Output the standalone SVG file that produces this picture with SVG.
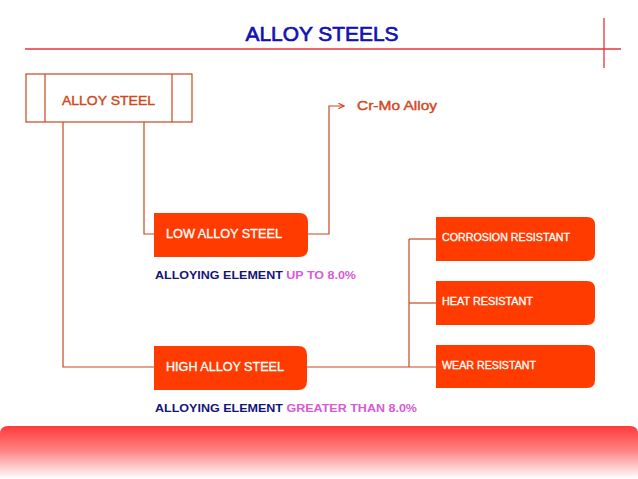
<svg xmlns="http://www.w3.org/2000/svg" width="638" height="479" viewBox="0 0 638 479">
<defs>
<linearGradient id="bar" x1="0" y1="0" x2="0" y2="1">
<stop offset="0" stop-color="#ff3a3a"/>
<stop offset="0.45" stop-color="#ff8080"/>
<stop offset="1" stop-color="#ffffff"/>
</linearGradient>
<marker id="arr" viewBox="0 0 10 10" refX="9" refY="5" markerWidth="7" markerHeight="7" orient="auto" markerUnits="userSpaceOnUse">
<path d="M1,1 L9,5 L1,9" fill="none" stroke="#d2461c" stroke-width="1.6"/>
</marker>
<style>
.conn{fill:none;stroke:#c8461e;stroke-width:1.2}
.box{fill:#ff3b00}
.wt{fill:#ffffff;stroke:#ffffff;stroke-width:0.3;font-family:"Liberation Sans",Arial,sans-serif}
.or{fill:#d2461c;stroke:#d2461c;stroke-width:0.4;font-family:"Liberation Sans",Arial,sans-serif}
.nv{fill:#141478;font-family:"Liberation Sans",Arial,sans-serif;font-weight:bold;font-size:11.5px}
.mg{fill:#d85ad6}
</style>
</defs>
<rect width="638" height="479" fill="#ffffff"/>
<text x="322" y="41" text-anchor="middle" font-family="'Liberation Sans',Arial,sans-serif" font-size="21" fill="#1212b4" stroke="#1212b4" stroke-width="0.7" textLength="153" lengthAdjust="spacingAndGlyphs">ALLOY STEELS</text>
<line x1="25" y1="49" x2="621" y2="49" stroke="#e8343a" stroke-width="1.3"/>
<line x1="604" y1="18" x2="604" y2="68" stroke="#e8343a" stroke-width="1.3"/>

<g id="connectors">
<path class="conn" d="M63,122 V367 H154"/>
<path class="conn" d="M144,122 V234 H154"/>
<path class="conn" d="M308,234 H329 V106 H344" marker-end="url(#arr)"/>
<path class="conn" d="M307,367 H436"/>
<path class="conn" d="M409,239 V367"/>
<path class="conn" d="M409,239 H436"/>
<path class="conn" d="M409,303 H436"/>
</g>

<g id="alloy-steel">
<rect x="26" y="74" width="166" height="48" fill="none" stroke="#c8461e" stroke-width="1.2"/>
<line x1="45" y1="74" x2="45" y2="122" stroke="#c8461e" stroke-width="1.2"/>
<line x1="172" y1="74" x2="172" y2="122" stroke="#c8461e" stroke-width="1.2"/>
<text class="or" x="62" y="105" font-size="13" textLength="93" lengthAdjust="spacingAndGlyphs">ALLOY STEEL</text>
</g>

<g id="cr-mo">
<text class="or" x="357" y="110" font-size="13" textLength="80" lengthAdjust="spacingAndGlyphs">Cr-Mo Alloy</text>
</g>

<g id="low-alloy">
<path class="box" d="M154,213 H299 Q308,213 308,222 V248 Q308,257 299,257 H154 Z"/>
<text class="wt" x="166" y="238" font-size="12" textLength="116" lengthAdjust="spacingAndGlyphs">LOW ALLOY STEEL</text>
<text class="nv" x="155" y="279" textLength="201" lengthAdjust="spacingAndGlyphs">ALLOYING ELEMENT <tspan class="mg">UP TO 8.0%</tspan></text>
</g>

<g id="high-alloy">
<path class="box" d="M154,346 H298 Q307,346 307,355 V381 Q307,390 298,390 H154 Z"/>
<text class="wt" x="166" y="371" font-size="12" textLength="118" lengthAdjust="spacingAndGlyphs">HIGH ALLOY STEEL</text>
<text class="nv" x="155" y="412" textLength="262" lengthAdjust="spacingAndGlyphs">ALLOYING ELEMENT <tspan class="mg">GREATER THAN 8.0%</tspan></text>
</g>

<g id="corrosion">
<path class="box" d="M436,217 H587 Q595,217 595,225 V253 Q595,261 587,261 H436 Z"/>
<text class="wt" x="442" y="241" font-size="10" textLength="128" lengthAdjust="spacingAndGlyphs">CORROSION RESISTANT</text>
</g>
<g id="heat">
<path class="box" d="M436,281 H587 Q595,281 595,289 V317 Q595,325 587,325 H436 Z"/>
<text class="wt" x="442" y="305" font-size="10" textLength="91" lengthAdjust="spacingAndGlyphs">HEAT RESISTANT</text>
</g>
<g id="wear">
<path class="box" d="M436,345 H587 Q595,345 595,353 V380 Q595,388 587,388 H436 Z"/>
<text class="wt" x="442" y="369" font-size="10" textLength="94" lengthAdjust="spacingAndGlyphs">WEAR RESISTANT</text>
</g>

<path d="M0,434 Q0,426 8,426 H630 Q638,426 638,434 V479 H0 Z" fill="url(#bar)"/>
</svg>
